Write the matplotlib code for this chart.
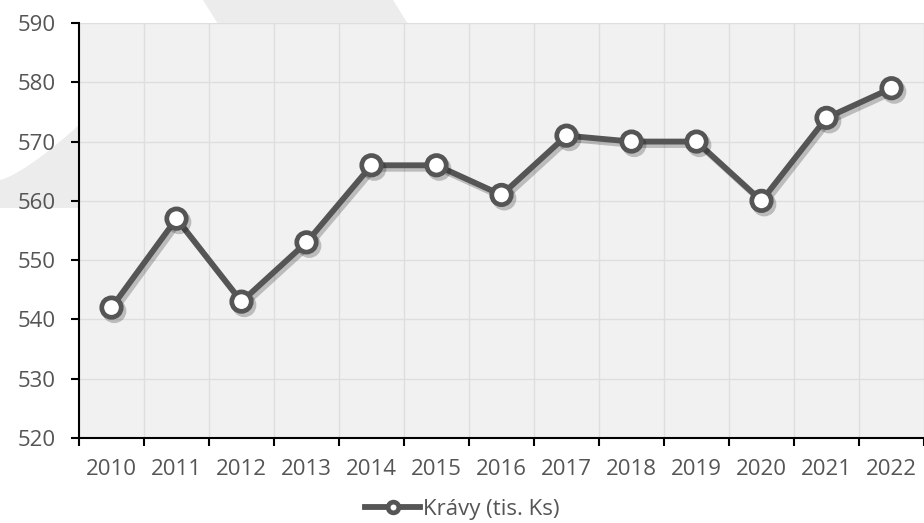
import matplotlib
matplotlib.use("Agg")
import matplotlib.pyplot as plt
import matplotlib.patheffects as pe
from matplotlib.patches import Polygon
import numpy as np

years = ["2010", "2011", "2012", "2013", "2014", "2015", "2016",
         "2017", "2018", "2019", "2020", "2021", "2022"]
values = [542, 557, 543, 553, 566, 566, 561, 571, 570, 570, 560, 574, 579]
series_name = "Krávy (tis. Ks)"
yticks = [520, 530, 540, 550, 560, 570, 580, 590]

plt.rcParams['font.family'] = ['Open Sans', 'DejaVu Sans']

W, H = 924, 523
fig = plt.figure(figsize=(W / 100, H / 100), dpi=100)
fig.patch.set_facecolor("white")

# background watermark shapes drawn in a full-figure background axes
bg = fig.add_axes([0, 0, 1, 1], zorder=-10)
bg.set_xlim(0, W)
bg.set_ylim(H, 0)
bg.axis("off")
wm = "#ececec"
bg.add_patch(Polygon([(203, 0), (393, 0), (408, 24), (218, 24)], closed=True,
                     facecolor=wm, edgecolor="none"))
curve_x = np.linspace(0, 79, 30)
curve_y = 180 - 55 * (curve_x / 79) ** 1.3
left_pts = [(0, 208), (79, 208)] + list(zip(curve_x[::-1], curve_y[::-1]))
bg.add_patch(Polygon(left_pts, closed=True, facecolor=wm, edgecolor="none"))

ax = fig.add_axes([79 / W, (H - 438) / H, 845 / W, 415 / H], zorder=1)
ax.set_facecolor("#f1f1f1")

n = len(years)
x = np.arange(n) + 0.5
ax.set_xlim(0, n)
ax.set_ylim(520, 590)

ax.set_xticks(np.arange(n + 1))
ax.set_xticklabels([])
ax.set_xticks(x, minor=True)
ax.set_xticklabels(years, minor=True)
ax.set_yticks(yticks)
ax.set_yticklabels([str(v) for v in yticks])

ax.grid(True, which="major", color="#dedede", linewidth=1)
ax.set_axisbelow(True)

for s in ["top", "right"]:
    ax.spines[s].set_visible(False)
for s in ["left", "bottom"]:
    ax.spines[s].set_linewidth(1.5)
    ax.spines[s].set_color("black")

ax.tick_params(axis="x", which="major", length=6, width=1.5, direction="out", color="black")
ax.tick_params(axis="x", which="minor", length=0, pad=15, labelsize=16, labelcolor="#555555")
ax.tick_params(axis="y", which="major", length=6, width=1.5, direction="out", color="black",
               labelsize=16, labelcolor="#555555", pad=11)

line, = ax.plot(x, values, color="#555555", linewidth=4.2, marker="o",
                markersize=14, markerfacecolor="white", markeredgecolor="#555555",
                markeredgewidth=3.4, label=series_name, zorder=5, clip_on=False)
line.set_path_effects([pe.SimpleLineShadow(offset=(2, -2.5), shadow_color="black", alpha=0.22),
                       pe.Normal()])

leg = fig.legend(handles=[line], loc="center", bbox_to_anchor=(0.5, 1 - 509 / H),
                 frameon=False, fontsize=16, handlelength=2.5, handletextpad=0.1,
                 markerscale=0.55)
for t in leg.get_texts():
    t.set_color("#555555")
for h in leg.legend_handles:
    h.set_path_effects([])

fig.savefig("out.png", dpi=100, facecolor=fig.get_facecolor())
